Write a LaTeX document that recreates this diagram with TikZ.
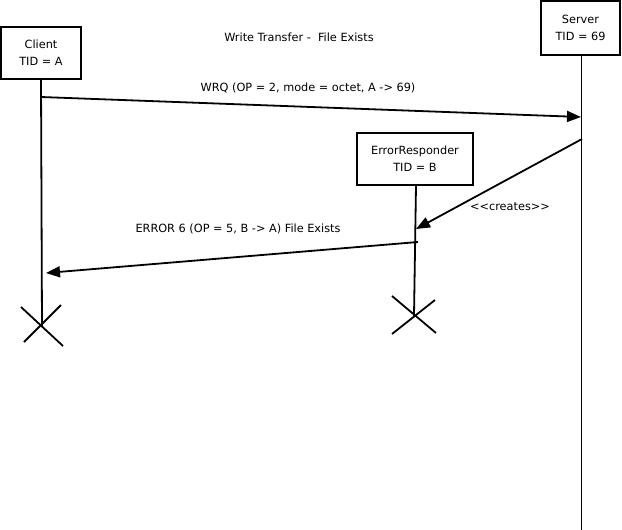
\documentclass[tikz,border=0pt]{standalone}
\usepackage{fontspec}
\setmainfont{DejaVu Sans}
\usetikzlibrary{arrows.meta}
\begin{document}
\begin{tikzpicture}[x=1pt, y=-1pt,
  lbl/.style={font=\fontsize{11.3}{17}\selectfont, inner sep=0pt},
  objbox/.style={draw, line width=1.9pt, align=center, inner sep=0pt,
    font=\fontsize{11.3}{17}\selectfont},
  lifeline/.style={line width=1.8pt},
  msg/.style={line width=1.8pt, -{Triangle[length=14pt, width=11pt]}},
  cross/.style={line width=1.8pt}]
  \useasboundingbox (0,0) rectangle (622,530);

  % participants
  \node[objbox, minimum width=80pt, minimum height=52pt] (client) at (41,53) {Client\\TID = A};
  \node[objbox, minimum width=79pt, minimum height=54pt] (server) at (580.5,28) {Server\\TID = 69};
  \node[objbox, minimum width=116pt, minimum height=52pt] (errresp) at (415,159) {ErrorResponder\\TID = B};

  \node[lbl] (title) at (299,37) {Write Transfer -~ File Exists};

  % lifeline ends
  \coordinate (clientEnd) at (42,327);
  \coordinate (errEnd) at (414,316);
  \coordinate (serverEnd) at (581.5,531);

  \draw[lifeline] (client.south) -- (clientEnd);
  \draw[lifeline] (errresp.south -| 416,0) -- (errEnd);
  \draw[lifeline] (server.south -| 581.5,0) -- (serverEnd);

  % destruction marks
  \coordinate (c1a) at (21,307); \coordinate (c1b) at (63,346);
  \coordinate (c2a) at (61,305); \coordinate (c2b) at (24,342);
  \draw[cross] (c1a) -- (c1b);
  \draw[cross] (c2a) -- (c2b);
  \coordinate (e1a) at (392,296); \coordinate (e1b) at (436,333);
  \coordinate (e2a) at (392,334); \coordinate (e2b) at (435,300);
  \draw[cross] (e1a) -- (e1b);
  \draw[cross] (e2a) -- (e2b);

  % messages
  \coordinate (wrqS) at (41,97);
  \coordinate (wrqE) at (581,117);
  \draw[msg] (wrqS) -- (wrqE);
  \node[lbl] (wrqL) at (308,88) {WRQ (OP = 2, mode = octet, A -{}> 69)};

  \coordinate (crS) at (582,139);
  \coordinate (crE) at (416,229);
  \draw[msg] (crS) -- (crE);
  \node[lbl] (crL) at (510,207) {{<}{<}creates{>}{>}};

  \coordinate (errS) at (418,242);
  \coordinate (errE) at (46,273);
  \draw[msg] (errS) -- (errE);
  \node[lbl] (errL) at (238,229) {ERROR 6 (OP = 5, B -{}> A) File Exists};
\end{tikzpicture}
\end{document}
